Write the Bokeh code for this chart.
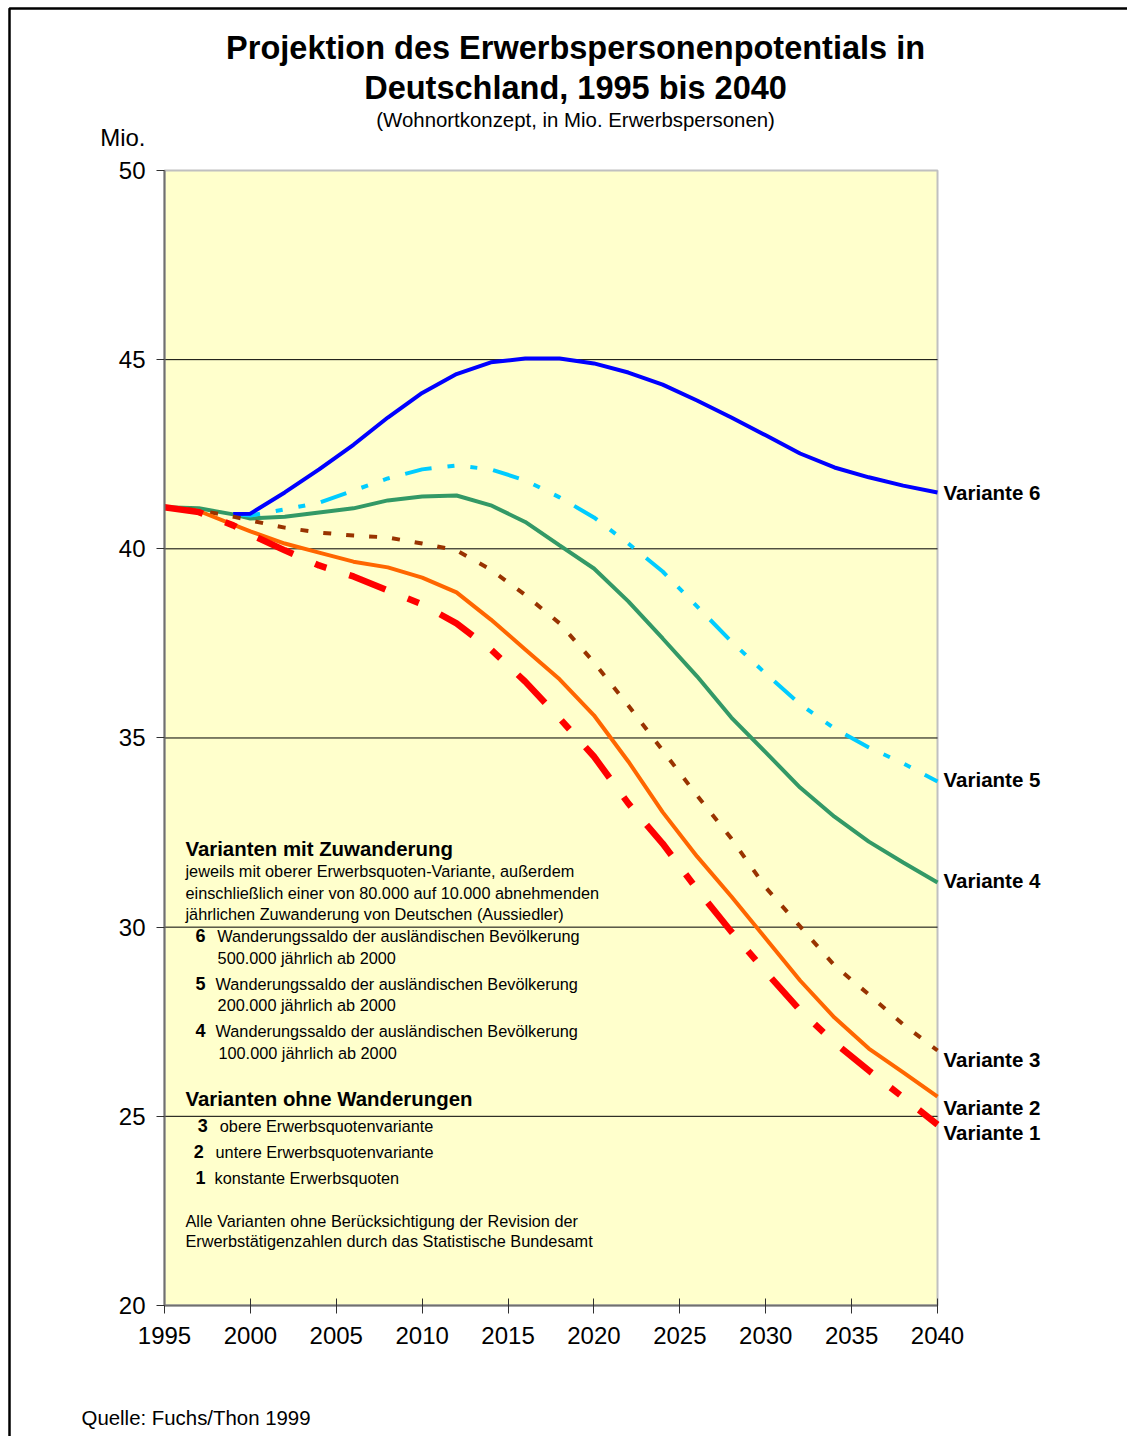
from bokeh.plotting import figure
from bokeh.models import FixedTicker, Label, BoxAnnotation, Range1d
from bokeh.embed import file_html
from bokeh.resources import INLINE

FONT = "Liberation Sans"

# Projection years (variants without foreign migration start in 1995)
years = [1995, 1997, 1999, 2000, 2002, 2004, 2006, 2008, 2010, 2012, 2014, 2016,
         2018, 2020, 2022, 2024, 2026, 2028, 2030, 2032, 2034, 2036, 2038, 2040]
# Migration variants branch off around 2000
years_mig = [1999, 2000, 2002, 2004, 2006, 2008, 2010, 2012, 2014, 2016,
             2018, 2020, 2022, 2024, 2026, 2028, 2030, 2032, 2034, 2036, 2038, 2040]

# Labour force potential, million persons
var1 = [41.10, 40.97, 40.62, 40.38, 39.96, 39.56, 39.27, 38.90, 38.53, 38.03, 37.34, 36.49,
        35.52, 34.51, 33.27, 32.21, 31.00, 29.88, 28.82, 27.80, 26.95, 26.21, 25.50, 24.78]
var2 = [41.10, 41.00, 40.64, 40.46, 40.14, 39.90, 39.66, 39.51, 39.24, 38.85, 38.13, 37.34,
        36.55, 35.60, 34.38, 33.04, 31.87, 30.81, 29.70, 28.59, 27.61, 26.79, 26.16, 25.52]
var3 = [41.10, 41.02, 40.85, 40.75, 40.56, 40.43, 40.35, 40.30, 40.14, 39.96, 39.45, 38.78,
        38.03, 37.00, 35.86, 34.67, 33.48, 32.34, 31.05, 30.02, 28.99, 28.22, 27.43, 26.74]
var4 = [41.10, 41.07, 40.91, 40.80, 40.85, 40.96, 41.07, 41.28, 41.38, 41.41, 41.15, 40.71,
        40.09, 39.48, 38.61, 37.63, 36.63, 35.54, 34.62, 33.69, 32.92, 32.26, 31.71, 31.18]
var5 = [40.92, 40.88, 41.04, 41.22, 41.54, 41.86, 42.10, 42.20, 42.10, 41.81,
        41.36, 40.83, 40.14, 39.40, 38.48, 37.55, 36.70, 35.89, 35.25, 34.75, 34.33, 33.85]
var6 = [40.92, 40.93, 41.49, 42.10, 42.75, 43.47, 44.12, 44.62, 44.93, 45.03,
        45.03, 44.90, 44.66, 44.34, 43.92, 43.47, 43.00, 42.52, 42.15, 41.89, 41.67, 41.49]

x_ticks = [1995, 2000, 2005, 2010, 2015, 2020, 2025, 2030, 2035, 2040]
y_ticks = [20, 25, 30, 35, 40, 45, 50]
grid_y = [25, 30, 35, 40, 45]

# End-of-line variant labels: text and vertical position
end_labels = ["Variante 6", "Variante 5", "Variante 4", "Variante 3", "Variante 2", "Variante 1"]
end_label_y = [41.50, 33.89, 31.24, 26.51, 25.24, 24.56]

X0, X1 = 1995, 2040
Y0, Y1 = 20, 50

# The canvas is one big frame; the chart area sits inside it so that
# title, source and end labels can be placed around it.
p = figure(width=1127, height=1436, title=None,
           x_range=Range1d(1985.453, 2051.06), y_range=Range1d(16.537, 54.493),
           output_backend="svg", toolbar_location=None,
           min_border_left=0, min_border_right=0, min_border_top=0, min_border_bottom=0)

p.background_fill_color = "white"
p.border_fill_color = "white"
p.outline_line_color = None
p.xgrid.visible = False
p.ygrid.visible = False

# chart area
p.add_layout(BoxAnnotation(left=X0, right=X1, bottom=Y0, top=Y1, level="underlay",
                           fill_color="#ffffcc", fill_alpha=1,
                           line_color="#c0c0c0", line_alpha=1, line_width=2))
p.segment(x0=[X0] * len(grid_y), x1=[X1] * len(grid_y), y0=grid_y, y1=grid_y,
          line_color="black", line_width=1)

# axes pinned to the chart area
p.xaxis.fixed_location = Y0
p.xaxis.bounds = (X0, X1)
p.yaxis.fixed_location = X0
p.yaxis.bounds = (Y0, Y1)
p.xaxis.ticker = FixedTicker(ticks=x_ticks)
p.yaxis.ticker = FixedTicker(ticks=y_ticks)
for ax in (p.xaxis, p.yaxis):
    ax.axis_line_color = "#707070"
    ax.axis_line_width = 2
    ax.major_tick_line_color = "#303030"
    ax.major_tick_line_width = 1
    ax.minor_tick_line_color = None
    ax.major_label_text_font = FONT
    ax.major_label_text_font_size = "24px"
    ax.major_label_text_color = "black"
p.xaxis.major_tick_in = 7
p.xaxis.major_tick_out = 8
p.xaxis.major_label_standoff = 14
p.yaxis.major_tick_in = 0
p.yaxis.major_tick_out = 8
p.yaxis.major_label_standoff = 11

# series
p.line(years, var4, line_color="#339966", line_width=4)
p.line(years_mig, var5, line_color="#00ccff", line_width=4, line_dash="27 16 7 16 7 16")
p.line(years_mig, var6, line_color="#0000ff", line_width=4)
p.line(years, var3, line_color="#993300", line_width=4, line_dash="8 15")
p.line(years, var2, line_color="#ff6600", line_width=4)
p.line(years, var1, line_color="#ff0000", line_width=6.5, line_dash="39 24 12 24")

for txt, yv in zip(end_labels, end_label_y):
    p.add_layout(Label(x=2040.35, y=yv, text=txt, text_font=FONT, text_font_size="20.5px",
                       text_font_style="bold", text_color="black", text_baseline="alphabetic"))

def text(x, y, s, size="16.3px", bold=False, align="left"):
    p.add_layout(Label(x=x, y=y, text=s, text_font=FONT, text_font_size=size,
                       text_font_style="bold" if bold else "normal", text_color="black",
                       text_align=align, text_baseline="alphabetic"))

# title block
text(2018.93, 53.245, "Projektion des Erwerbspersonenpotentials in", "32.5px", True, "center")
text(2018.93, 52.182, "Deutschland, 1995 bis 2040", "32.5px", True, "center")
text(2018.93, 51.336, "(Wohnortkonzept, in Mio. Erwerbspersonen)", "20.4px", False, "center")
text(1993.894, 50.877, "Mio.", "24px", False, "right")

# explanation block
text(1996.22, 32.064, "Varianten mit Zuwanderung", "20.4px", True)
text(1996.22, 31.472, "jeweils mit oberer Erwerbsquoten-Variante, außerdem")
text(1996.22, 30.909, "einschließlich einer von 80.000 auf 10.000 abnehmenden")
text(1996.22, 30.335, "jährlichen Zuwanderung von Deutschen (Aussiedler)")
text(1996.80, 29.780, "6", "18px", True)
text(1998.07, 29.762, "Wanderungssaldo der ausländischen Bevölkerung")
text(1998.09, 29.191, "500.000 jährlich ab 2000")
text(1996.80, 28.521, "5", "18px", True)
text(1997.97, 28.503, "Wanderungssaldo der ausländischen Bevölkerung")
text(1998.09, 27.930, "200.000 jährlich ab 2000")
text(1996.80, 27.269, "4", "18px", True)
text(1997.97, 27.251, "Wanderungssaldo der ausländischen Bevölkerung")
text(1998.14, 26.680, "100.000 jährlich ab 2000")
text(1996.22, 25.456, "Varianten ohne Wanderungen", "20.4px", True)
text(1996.94, 24.757, "3", "18px", True)
text(1998.22, 24.739, "obere Erwerbsquotenvariante")
text(1996.71, 24.081, "2", "18px", True)
text(1997.97, 24.063, "untere Erwerbsquotenvariante")
text(1996.80, 23.394, "1", "18px", True)
text(1997.91, 23.376, "konstante Erwerbsquoten")
text(1996.22, 22.229, "Alle Varianten ohne Berücksichtigung der Revision der")
text(1996.22, 21.699, "Erwerbstätigenzahlen durch das Statistische Bundesamt")

# source
text(1990.17, 17.03, "Quelle: Fuchs/Thon 1999", "20.4px")

# page frame
p.add_layout(BoxAnnotation(left=9, right=1200, top=8, bottom=1500,
                           left_units="canvas", right_units="canvas",
                           top_units="canvas", bottom_units="canvas",
                           fill_alpha=0, line_color="black", line_alpha=1, line_width=2.5))

open("out.html", "w").write(file_html(p, INLINE))
